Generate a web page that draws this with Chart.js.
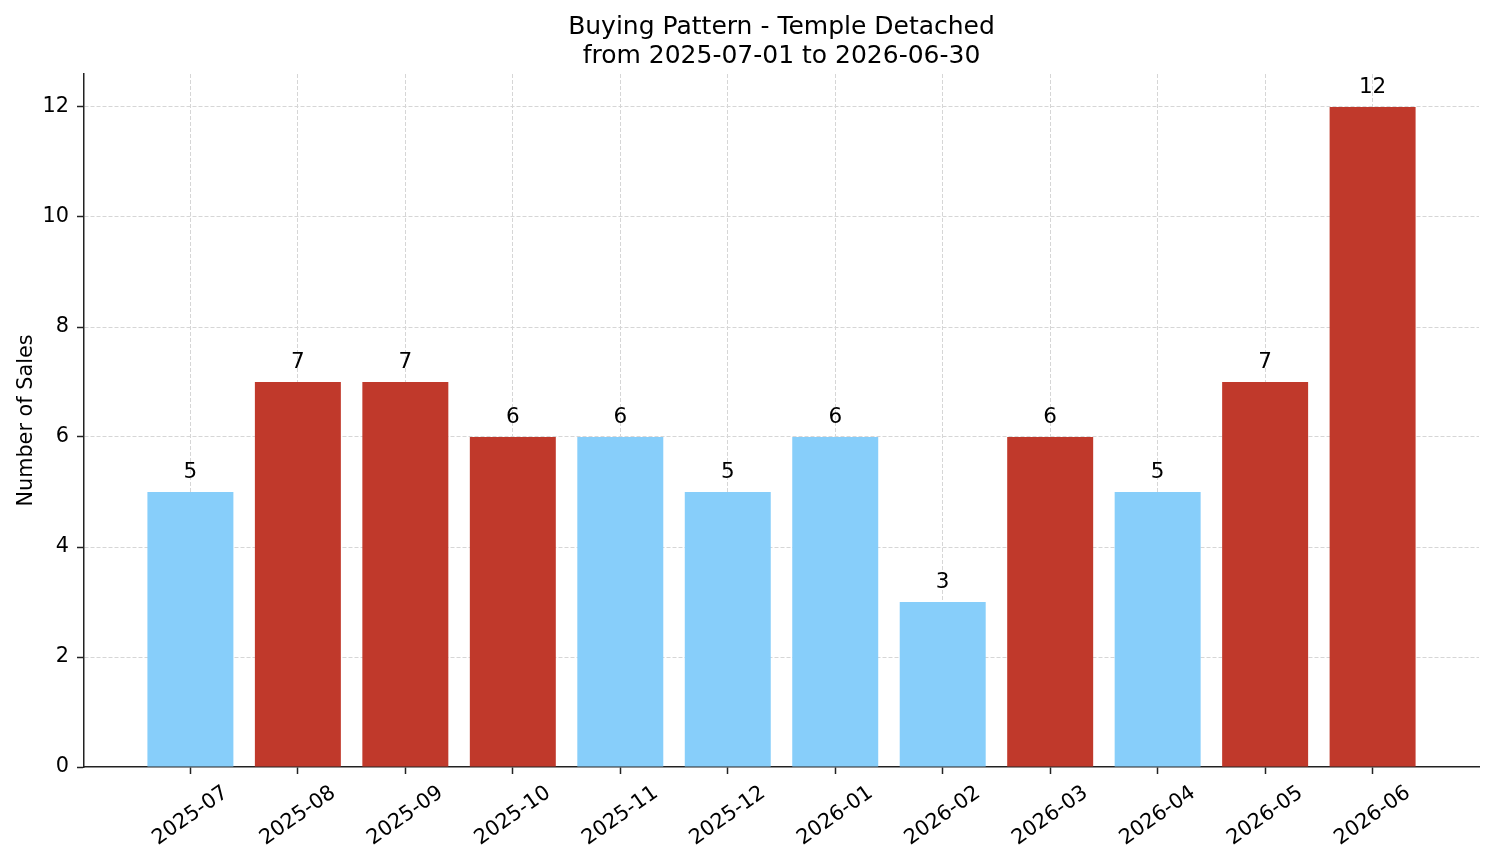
<!DOCTYPE html>
<html>
<head>
<meta charset="utf-8">
<title>Buying Pattern - Temple Detached</title>
<script src="https://cdn.jsdelivr.net/npm/chart.js@4"></script>
<style>
  body { margin: 0; background: #fff; }
  #wrap { width: 1494px; height: 863px; }
</style>
</head>
<body>
<div id="wrap"><canvas id="myChart"></canvas></div>
<script>
// data
const months = ['2025-07', '2025-08', '2025-09', '2025-10', '2025-11', '2025-12',
                '2026-01', '2026-02', '2026-03', '2026-04', '2026-05', '2026-06']
const sales = [5, 7, 7, 6, 6, 5, 6, 3, 6, 5, 7, 12]
const highlighted = [false, true, true, true, false, false, false, false, true, false, true, true]
const yTicks = [0, 2, 4, 6, 8, 10, 12]
const titleLines = ['Buying Pattern - Temple Detached', 'from 2025-07-01 to 2026-06-30']
const yTitle = 'Number of Sales'

const FONT = '"DejaVu Sans", sans-serif'
const BLUE = '#87CEFA'
const RED = '#C0392B'
const AXIS = '#222222'
const GRID = '#d6d6d6'

// matplotlib style text: title, axis label, rotated month labels, bar values
const textPlugin = {
    id: 'mplText',
    afterDraw(chart) {
        const ctx = chart.ctx
        const area = chart.chartArea
        const xs = chart.scales.x
        ctx.save()
        ctx.fillStyle = '#000'

        // title
        ctx.font = '25px ' + FONT
        ctx.textAlign = 'center'
        ctx.textBaseline = 'alphabetic'
        const cx = (area.left + area.right) / 2
        ctx.fillText(titleLines[0], cx, 34)
        ctx.fillText(titleLines[1], cx, 63)

        // y axis title
        ctx.font = '20.8px ' + FONT
        ctx.save()
        ctx.translate(32, (area.top + area.bottom) / 2)
        ctx.rotate(-Math.PI / 2)
        ctx.textAlign = 'center'
        ctx.textBaseline = 'alphabetic'
        ctx.fillText(yTitle, 0, 0)
        ctx.restore()

        // rotated x labels, centred under the tick like ha='center'
        const a = 35 * Math.PI / 180
        const h = 20.8 * 1.164
        months.forEach((m, i) => {
            const px = xs.getPixelForValue(i)
            const w = ctx.measureText(m).width
            const bh = w * Math.sin(a) + h * Math.cos(a)
            ctx.save()
            ctx.translate(px, area.bottom + 14 + bh / 2)
            ctx.rotate(-a)
            ctx.textAlign = 'center'
            ctx.textBaseline = 'middle'
            ctx.fillText(m, 0, 0)
            ctx.restore()
        })

        // values on top of bars
        const meta = chart.getDatasetMeta(0)
        ctx.font = '21.5px ' + FONT
        ctx.textAlign = 'center'
        ctx.textBaseline = 'alphabetic'
        meta.data.forEach((bar, i) => {
            ctx.fillText(String(sales[i]), bar.x, bar.y - 14)
        })
        ctx.restore()
    }
}

const ctx = document.getElementById('myChart').getContext('2d')

const data = {
    datasets: [{
        data: sales.map((v, i) => ({ x: i, y: v })),
        backgroundColor: highlighted.map(f => f ? RED : BLUE),
        borderWidth: 0,
        barPercentage: 0.8,
        categoryPercentage: 1.0,
    }]
}

const gridOpts = {
    offset: false,
    color: GRID,
    lineWidth: 1,
    drawTicks: true,
    tickLength: 7,
    tickColor: AXIS,
    tickWidth: 1.5,
    tickBorderDash: [],
}

const config = {
    type: 'bar',
    data: data,
    options: {
        responsive: true,
        maintainAspectRatio: false,
        animation: false,
        layout: { padding: { top: 74, right: 15, left: 0, bottom: 0 } },
        plugins: {
            legend: { display: false },
            title: { display: false },
            tooltip: { enabled: false },
        },
        scales: {
            x: {
                type: 'linear',
                min: -0.99,
                max: 11.99,
                offset: false,
                z: 1,
                afterBuildTicks: (s) => { s.ticks = months.map((m, i) => ({ value: i })) },
                afterFit: (s) => { s.height = 96 },
                ticks: { display: false },
                grid: gridOpts,
                border: { display: true, color: AXIS, width: 1.5, dash: [4, 2] },
            },
            y: {
                min: 0,
                max: 12.6,
                z: 1,
                afterBuildTicks: (s) => { s.ticks = yTicks.map(v => ({ value: v })) },
                afterFit: (s) => { s.width = 84 },
                ticks: {
                    color: '#000',
                    padding: 8,
                    font: { family: FONT, size: 20.8 },
                },
                grid: {
                    ...gridOpts,
                    color: (c) => (c.tick && c.tick.value === 0) ? 'rgba(0,0,0,0)' : GRID,
                },
                border: { display: true, color: AXIS, width: 1.5, dash: [4, 2] },
            }
        }
    },
    plugins: [textPlugin],
}

const myChart = new Chart(ctx, config)
</script>
</body>
</html>
